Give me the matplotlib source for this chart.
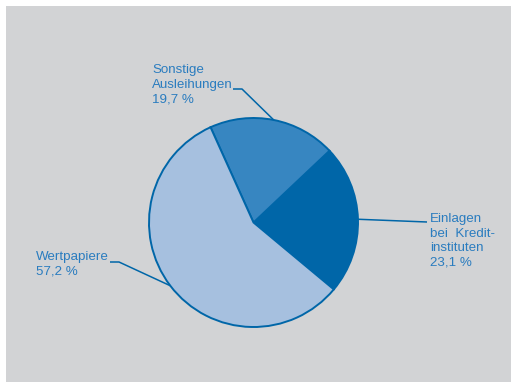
"""Pie chart: Anlagestruktur (Wertpapiere, Ausleihungen, Einlagen)."""

import numpy as np
import matplotlib
matplotlib.use('Agg')
import matplotlib.pyplot as plt
from matplotlib.patches import Rectangle

# data (counter-clockwise, starting at the lower right)
categories = ['Einlagen\nbei  Kredit-\ninstituten', 'Sonstige\nAusleihungen', 'Wertpapiere']
shares = [23.1, 19.7, 57.2]
colors = ['#0066a8', '#3786c1', '#a6c0df']

W, H = 511, 382
BG = '#d2d3d5'
EDGE = '#0066a8'
TEXT = '#2a7cbf'

fig = plt.figure(figsize=(W / 100, H / 100), dpi=100)
fig.patch.set_facecolor('white')
fig.patches.append(Rectangle((6 / W, -0.01), 1, (H - 6) / H + 0.01,
                             transform=fig.transFigure, facecolor=BG,
                             edgecolor='none', zorder=-1))

# axes in pixel units (y measured from the bottom)
ax = fig.add_axes([0, 0, 1, 1])
ax.set_xlim(0, W)
ax.set_ylim(0, H)
ax.set_aspect('equal')
ax.axis('off')
ax.patch.set_alpha(0)

cx, cy, r = 253.5, H - 222.5, 104.5
wedges, _ = ax.pie(shares, colors=colors, startangle=-39.8, counterclock=True,
                   center=(cx, cy), radius=r,
                   wedgeprops=dict(edgecolor=EDGE, linewidth=1.4))
ax.set_xlim(0, W)
ax.set_ylim(0, H)

# label layout: text top-left (px from top), leader elbow points (px from top)
label_pos = [(430, 213), (152, 64), (36, 251)]
elbows = [[(427, 222)],
          [(242, 89), (233, 89)],
          [(119, 262), (110, 262)]]

for w, (share, cat), (tx, ty), elbow in zip(wedges, zip(shares, categories),
                                             label_pos, elbows):
    mid = np.deg2rad((w.theta1 + w.theta2) / 2)
    ax_pt = (cx + r * np.cos(mid), cy + r * np.sin(mid))
    xs = [ax_pt[0]] + [p[0] for p in elbow]
    ys = [ax_pt[1]] + [H - p[1] for p in elbow]
    ax.plot(xs, ys, color=EDGE, linewidth=1.1, solid_capstyle='butt', zorder=1)
    label = f"{cat}\n{share:.1f} %".replace('.', ',')
    ax.text(tx, H - ty, label, ha='left', va='top', fontsize=9.6,
            family='Liberation Sans', color=TEXT, linespacing=1.28)

fig.savefig('out.png', dpi=100, facecolor=fig.get_facecolor())
